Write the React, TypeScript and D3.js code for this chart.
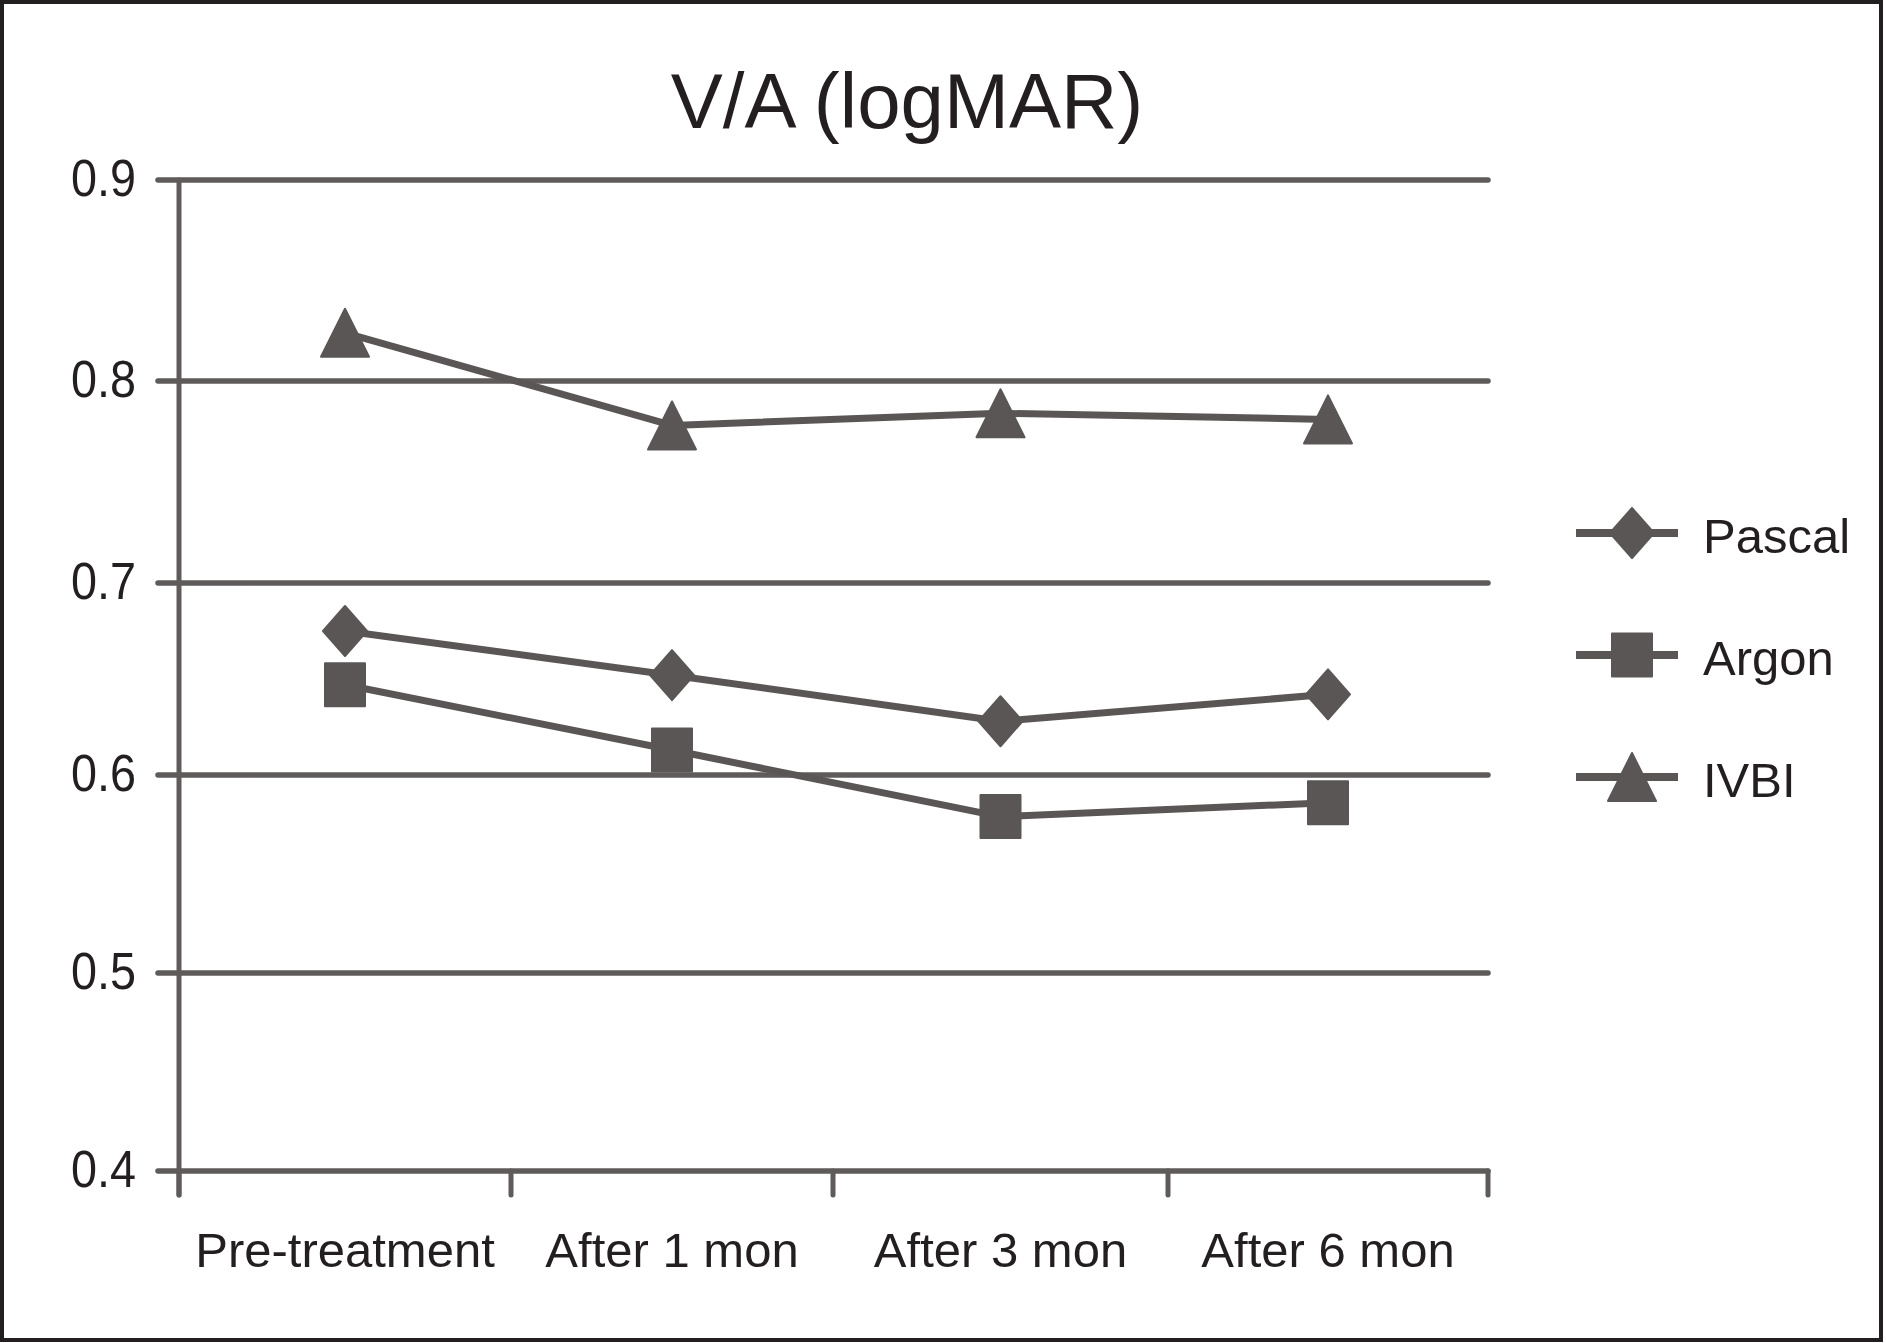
import React from "react";
import * as d3 from "d3";

const categories = ["Pre-treatment", "After 1 mon", "After 3 mon", "After 6 mon"];
const seriesNames = ["Pascal", "Argon", "IVBI"];
const pascal = [0.675, 0.652, 0.628, 0.642];
const argon = [0.647, 0.613, 0.579, 0.586];
const ivbi = [0.824, 0.778, 0.784, 0.781];
const yTicks = [0.4, 0.5, 0.6, 0.7, 0.8, 0.9];
const yTickLabels = ["0.4", "0.5", "0.6", "0.7", "0.8", "0.9"];
const title = "V/A (logMAR)";

const W = 1886;
const H = 1343;
const GRID = "#5f5b5b";
const MARK = "#5a5656";
const TEXT = "#231f20";
const FONT = "'Liberation Sans', Arial, sans-serif";

// category boundaries (tick positions) and value axis
const xEdge = d3.scaleLinear().domain([0, 1, 2, 3, 4]).range([179, 511, 833, 1168, 1488]);
const y = d3.scaleLinear().domain(yTicks).range([1171, 973, 775, 583, 381, 180]);
const xc = (i: number) => xEdge(i + 0.5);

type Shape = "diamond" | "square" | "triangle";
const shapes: Shape[] = ["diamond", "square", "triangle"];
const data = [pascal, argon, ivbi];

function markerPath(shape: Shape, cx: number, cy: number): string {
  const p = d3.path();
  if (shape === "diamond") {
    const hw = 22, hh = 25;
    p.moveTo(cx, cy - hh);
    p.lineTo(cx + hw, cy);
    p.lineTo(cx, cy + hh);
    p.lineTo(cx - hw, cy);
    p.closePath();
  } else if (shape === "square") {
    const hw = 20, hh = 21.5;
    p.rect(cx - hw, cy - hh, hw * 2, hh * 2);
  } else {
    const hw = 24, hh = 24;
    p.moveTo(cx, cy - hh);
    p.lineTo(cx + hw, cy + hh);
    p.lineTo(cx - hw, cy + hh);
    p.closePath();
  }
  return p.toString();
}

export default function App() {
  const line = d3
    .line<number>()
    .x((_, i) => xc(i))
    .y((d) => y(d));

  const legendY = [533, 655, 777];

  return (
    <svg
      width={W}
      height={H}
      style={{ position: "absolute", left: 0, top: 0, background: "#fff" }}
      fontFamily={FONT}
    >
      <rect x={0} y={0} width={W} height={H} fill="#fff" />
      <rect x={2} y={2} width={1879} height={1338} fill="none" stroke={TEXT} strokeWidth={4} />

      <text x={907} y={128} fontSize={78} fill={TEXT} textAnchor="middle">
        {title}
      </text>

      {/* gridlines */}
      {yTicks.map((t, i) => (
        <g key={"g" + i}>
          <line
            x1={158}
            x2={1488}
            y1={y(t)}
            y2={y(t)}
            stroke={GRID}
            strokeWidth={5.5}
            strokeLinecap="round"
          />
          <text
            x={136}
            y={y(t) + 16}
            fontSize={52}
            fill={TEXT}
            textAnchor="end"
            textLength={65}
            lengthAdjust="spacingAndGlyphs"
          >
            {yTickLabels[i]}
          </text>
        </g>
      ))}

      {/* y axis */}
      <line x1={179} x2={179} y1={180} y2={1195} stroke={GRID} strokeWidth={5} strokeLinecap="round" />

      {/* x ticks */}
      {d3.range(categories.length + 1).map((i) => (
        <line
          key={"t" + i}
          x1={xEdge(i)}
          x2={xEdge(i)}
          y1={y(0.4)}
          y2={1195}
          stroke={GRID}
          strokeWidth={5}
          strokeLinecap="round"
        />
      ))}

      {categories.map((c, i) => (
        <text key={"c" + i} x={xc(i)} y={1267} fontSize={49} fill={TEXT} textAnchor="middle">
          {c}
        </text>
      ))}

      {/* series */}
      {data.map((vals, si) => (
        <g key={"s" + si}>
          <path d={line(vals) || ""} fill="none" stroke={MARK} strokeWidth={7} strokeLinejoin="round" />
          {vals.map((v, i) => (
            <path
              key={i}
              d={markerPath(shapes[si], xc(i), y(v))}
              fill={MARK}
              stroke={MARK}
              strokeWidth={2}
              strokeLinejoin="round"
            />
          ))}
        </g>
      ))}

      {/* legend */}
      {seriesNames.map((n, i) => (
        <g key={"l" + i}>
          <line x1={1576} x2={1678} y1={legendY[i]} y2={legendY[i]} stroke={MARK} strokeWidth={8} />
          <path d={markerPath(shapes[i], 1632, legendY[i])} fill={MARK} stroke={MARK} strokeWidth={2} strokeLinejoin="round" />
          <text x={1703} y={legendY[i] + 20} fontSize={49} fill={TEXT}>
            {n}
          </text>
        </g>
      ))}
    </svg>
  );
}
